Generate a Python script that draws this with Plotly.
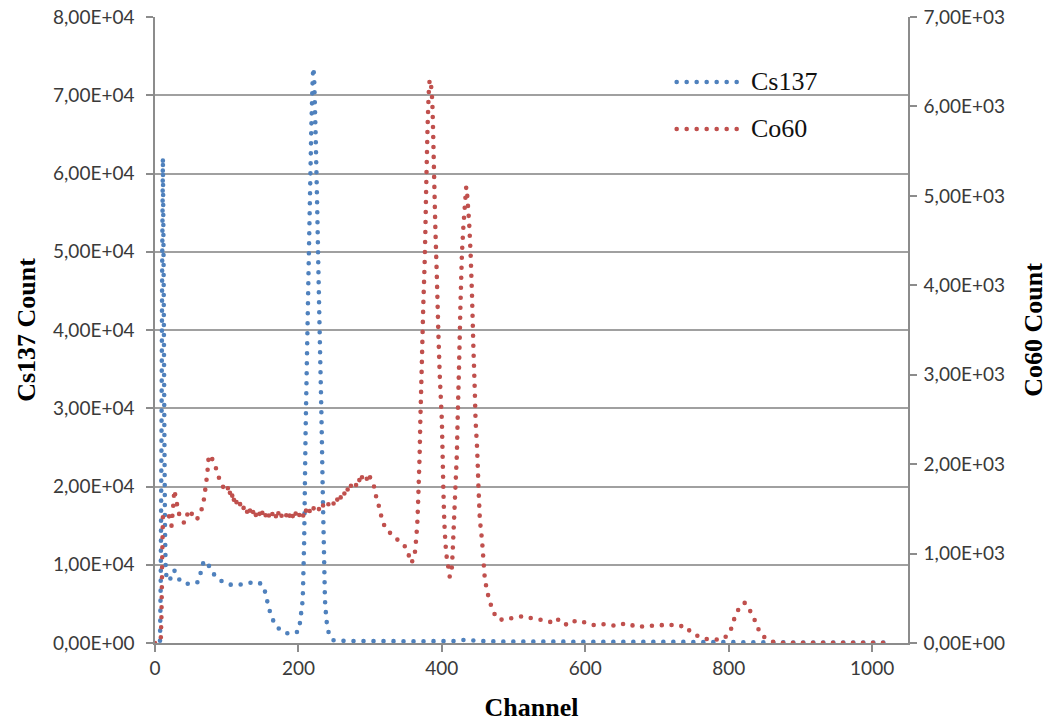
import plotly.graph_objects as go

# Cs137 spectrum (left axis)
cs_channel = [7, 8, 9, 10, 11, 12, 13, 14, 15, 17, 20, 23, 26, 29, 32, 35, 40, 44, 49, 53,
              57, 60, 62, 64, 66, 68, 70, 72, 75, 78, 82, 86, 90, 93, 97, 102, 106, 111, 116, 121,
              127, 133, 138, 142, 147, 151, 153, 155, 158, 162, 167, 172, 177, 182, 188, 194, 198, 200, 202, 204,
              206, 208, 210, 212, 214, 216, 218, 220, 221, 222, 224, 226, 228, 230, 232, 234, 236, 237, 239, 242,
              245, 248, 252, 260, 280, 300, 320, 340, 360, 380, 400, 420, 430, 437, 445, 460, 480, 500, 540, 580,
              620, 660, 700, 740, 780, 820, 860, 900, 940, 980, 1023]
cs_count = [300, 8000, 25000, 48000, 62000, 48000, 28000, 14000, 9000, 8200, 7900, 8600, 9300, 9100, 8500, 7900, 7700, 7600, 7500, 7600,
            7700, 7800, 8300, 9100, 9900, 10400, 10500, 10400, 9900, 9300, 8800, 8400, 8100, 7900, 7700, 7500, 7450, 7400, 7450, 7500,
            7600, 7700, 7800, 7800, 7600, 7300, 6700, 6000, 4700, 3500, 2400, 1900, 1500, 1300, 1150, 1250, 1400, 1500, 2500, 4000,
            5500, 13000, 27000, 37000, 47000, 56500, 66000, 72500, 73500, 72000, 65000, 56500, 47000, 38000, 29500, 19000, 10000, 5500, 2900, 1400,
            700, 380, 300, 280, 260, 250, 240, 230, 220, 230, 240, 260, 380, 420, 300, 230, 200, 190, 180, 170,
            160, 160, 150, 140, 120, 100, 80, 70, 60, 60, 50]

# Co60 spectrum (right axis)
co_channel = [0, 8, 9, 10, 11, 13, 16, 19, 21, 23, 25, 27, 29, 31, 34, 37, 41, 44, 46, 49,
              53, 58, 63, 67, 69, 71, 73, 74, 75, 77, 79, 82, 84, 87, 89, 91, 93, 95, 98, 100,
              102, 104, 105, 107, 109, 110, 112, 114, 116, 118, 120, 123, 125, 127, 130, 132, 134, 137, 139, 142,
              144, 147, 149, 151, 153, 156, 158, 160, 162, 165, 167, 170, 172, 174, 177, 179, 182, 184, 186, 188,
              191, 193, 195, 197, 200, 202, 204, 207, 209, 212, 214, 216, 218, 220, 223, 225, 228, 230, 233, 235,
              238, 240, 244, 246, 249, 251, 253, 256, 258, 260, 262, 265, 267, 269, 271, 273, 276, 278, 281, 284,
              286, 288, 290, 293, 296, 298, 300, 302, 305, 307, 309, 311, 313, 316, 319, 321,
              325, 328, 332, 335, 339, 342, 346, 349, 351, 353, 355, 357, 360, 362, 363, 364, 365, 366, 367, 368,
              369, 370, 372, 374, 376, 377, 378, 379, 380, 381, 382, 383, 384, 385, 386, 387, 388, 389, 390, 391,
              392, 393, 395, 397, 400, 402, 403, 404, 406, 409, 411, 413, 414, 415, 417, 419, 421, 422, 424, 426,
              428, 430, 432, 434, 435, 437, 438, 439, 440, 442, 444, 446, 447, 449, 450, 451, 453, 456, 458, 460,
              463, 466, 470, 474, 478, 481, 485, 490, 495, 499, 504, 509, 514, 518, 523, 528, 532, 536, 541, 546,
              551, 555, 558, 562, 565, 569, 572, 576, 579, 584, 588, 592, 595, 599, 602, 606, 611, 616, 621, 626,
              630, 635, 640, 644, 650, 656, 660, 665, 669, 672, 676, 681, 686, 690, 695, 700, 704, 707, 711, 714,
              718, 721, 725, 728, 732, 737, 742, 746, 750, 753, 757, 760, 764, 769, 773, 778, 783, 789, 793, 797,
              800, 803, 806, 809, 811, 814, 817, 820, 822, 825, 828, 831, 834, 836, 838, 840, 842, 844, 847, 851,
              855, 860, 865, 870, 880, 900, 950, 1000, 1023]
co_count = [0, 20, 300, 900, 1410, 1420, 1410, 1440, 1360, 1310, 1490, 1710, 1620, 1540, 1430, 1375, 1340, 1410, 1460, 1490,
            1410, 1375, 1450, 1540, 1650, 1770, 1900, 2000, 2100, 2090, 2070, 2020, 1990, 1880, 1850, 1820, 1790, 1745, 1720, 1690,
            1740, 1660, 1700, 1630, 1680, 1600, 1640, 1560, 1540, 1580, 1500, 1530, 1460, 1490, 1440, 1500, 1420, 1470, 1400, 1460,
            1490, 1410, 1470, 1430, 1390, 1480, 1440, 1410, 1470, 1420, 1460, 1380, 1450, 1490, 1410, 1440, 1460, 1400, 1450, 1420,
            1470, 1380, 1430, 1460, 1400, 1450, 1480, 1420, 1500, 1460, 1510, 1470, 1520, 1490, 1530, 1500, 1480, 1540, 1510, 1550,
            1520, 1560, 1540, 1590, 1560, 1610, 1580, 1640, 1600, 1660, 1630, 1690, 1660, 1730, 1700, 1760, 1740, 1790, 1760, 1840,
            1800, 1870, 1820, 1860, 1830, 1890, 1850, 1800, 1760, 1710, 1600, 1560, 1510, 1400, 1330, 1285,
            1250, 1230, 1200, 1175, 1150, 1130, 1100, 1075, 1040, 1005, 950, 895, 930, 1000, 1040, 1150, 1250, 1375, 1600, 1850,
            2100, 2490, 3100, 3750, 4250, 4600, 5030, 5400, 5750, 6000, 6200, 6300, 6280, 6230, 6150, 5980, 5660, 5290, 4950, 4620,
            4360, 4100, 3500, 3000, 2490, 1750, 1450, 1250, 1000, 850, 740, 780, 850, 1000, 1375, 1750, 2120, 2490, 3100, 3800,
            4360, 4650, 4880, 5100, 5050, 4820, 4710, 4540, 4375, 3900, 3300, 2800, 2490, 2200, 2000, 1750, 1375, 1150, 930, 705,
            590, 480, 390, 315, 270, 257, 265, 280, 275, 280, 290, 295, 300, 285, 280, 275, 268, 265, 250, 245,
            235, 270, 280, 260, 245, 215, 200, 230, 250, 245, 240, 250, 240, 230, 223, 210, 200, 205, 200, 210,
            205, 200, 195, 190, 205, 223, 215, 200, 185, 180, 190, 180, 185, 190, 195, 190, 195, 200, 205, 212,
            205, 200, 190, 182, 188, 190, 180, 126, 105, 90, 80, 70, 55, 45, 45, 45, 40, 34, 50, 78,
            100, 150, 230, 300, 340, 380, 414, 440, 450, 430, 390, 340, 295, 260, 223, 180, 145, 110, 78, 60,
            45, 20, 5, 3, 2, 2, 1, 1, 1]

series_names = ["Cs137", "Co60"]
series_colors = ["#4F81BD", "#C0504D"]

x_ticks = [0, 200, 400, 600, 800, 1000]
left_ticks = [0, 10000, 20000, 30000, 40000, 50000, 60000, 70000, 80000]
right_ticks = [0, 1000, 2000, 3000, 4000, 5000, 6000, 7000]


def sci_label(v):
    # Scientific notation with a decimal comma, e.g. 8,00E+04
    return f"{v:.2E}".replace(".", ",")


DOTS = dict(width=4.6, dash="0px,10px")
AXIS_GRAY = "#8c8c8c"
GRID_GRAY = "#a0a0a0"
TICK_FONT = dict(family="Lato", size=19, color="#3a3a3a")
TITLE_FONT = dict(family="Liberation Serif", size=26, color="#000000")

fig = go.Figure()
fig.add_trace(go.Scatter(x=cs_channel, y=cs_count, name=series_names[0], mode="lines",
                         line=dict(color=series_colors[0], simplify=False, **DOTS), yaxis="y", showlegend=False))
fig.add_trace(go.Scatter(x=co_channel, y=co_count, name=series_names[1], mode="lines",
                         line=dict(color=series_colors[1], simplify=False, **DOTS), yaxis="y2", showlegend=False))

# Legend: dotted sample line plus series name
legend_rows = [0.8962, 0.8211]
for name, color, yy in zip(series_names, series_colors, legend_rows):
    fig.add_shape(type="line", xref="paper", yref="paper", x0=0.6928, x1=0.7742, y0=yy, y1=yy,
                  line=dict(color=color, **DOTS))
    fig.add_annotation(xref="paper", yref="paper", x=0.7882, y=yy, text=name, showarrow=False,
                       xanchor="left", yanchor="middle",
                       font=dict(family="Liberation Serif", size=26, color="#111111"))

fig.update_layout(
    width=1048, height=722,
    margin=dict(l=155, r=140, t=17, b=79),
    paper_bgcolor="white", plot_bgcolor="white",
    showlegend=False,
    xaxis=dict(range=[0, 1050], tickvals=x_ticks, ticktext=[str(v) for v in x_ticks],
               showgrid=False, zeroline=False, showline=True, linecolor=AXIS_GRAY, linewidth=1.5,
               ticks="outside", ticklen=7, tickcolor=AXIS_GRAY, tickwidth=1.5,
               tickfont=TICK_FONT, automargin=False,
               title=dict(text="<b>Channel</b>", font=TITLE_FONT, standoff=20)),
    yaxis=dict(range=[0, 80000], tickvals=left_ticks, ticktext=[sci_label(v) for v in left_ticks],
               showgrid=True, gridcolor=GRID_GRAY, gridwidth=1.5, zeroline=False,
               showline=True, linecolor=AXIS_GRAY, linewidth=1.5,
               ticks="outside", ticklen=7, tickcolor=AXIS_GRAY, tickwidth=1.5,
               ticklabelstandoff=8,
               tickfont=TICK_FONT, automargin=False,
               title=dict(text="<b>Cs137 Count</b>", font=TITLE_FONT, standoff=10)),
    yaxis2=dict(range=[0, 7000], tickvals=right_ticks, ticktext=[sci_label(v) for v in right_ticks],
                overlaying="y", side="right", anchor="x",
                showgrid=False, zeroline=False, showline=True, linecolor=AXIS_GRAY, linewidth=1.5,
                ticks="outside", ticklen=7, tickcolor=AXIS_GRAY, tickwidth=1.5,
                ticklabelstandoff=3,
                tickfont=TICK_FONT, automargin=False,
                title=dict(text="<b>Co60 Count</b>", font=TITLE_FONT, standoff=24)),
)

# Round line caps turn the zero-length dashes into round dots
round_caps = ("var s=document.createElement('style');"
              "s.textContent='.scatterlayer .js-line, .shapelayer path{stroke-linecap:round;}';"
              "document.head.appendChild(s);")
fig.write_html("out.html", post_script=round_caps)
